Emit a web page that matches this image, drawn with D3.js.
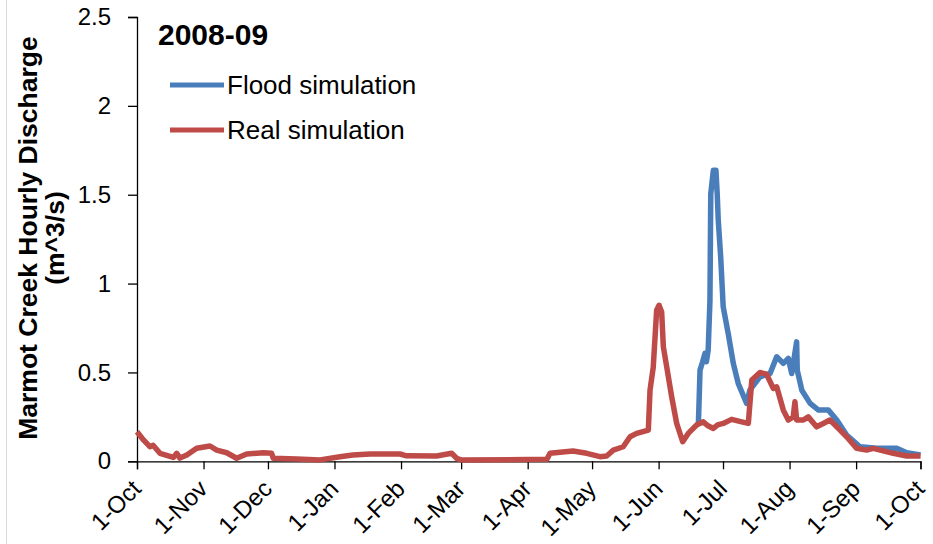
<!DOCTYPE html>
<html>
<head>
<meta charset="utf-8">
<script src="https://cdn.jsdelivr.net/npm/d3@7"></script>
<style>
  html, body { margin: 0; padding: 0; background: #fff; }
  svg { display: block; font-family: "Liberation Sans", Arial, sans-serif; }
</style>
</head>
<body>
<svg id="chart" width="933" height="544"></svg>
<script>
// Marmot Creek hourly discharge, water year 2008-09 (m^3/s)
const seasonLabel = "2008-09";
const yTickValues = [0, 0.5, 1, 1.5, 2, 2.5];
const seriesNames = ["Flood simulation", "Real simulation"];
const seriesColors = ["#4a7ebb", "#be4b48"];

// Real simulation: [date hour, discharge]
const realSeries = [
  ["2008-10-01 00", 0.166], ["2008-10-04 00", 0.120], ["2008-10-07 00", 0.082],
  ["2008-10-08 12", 0.090], ["2008-10-11 17", 0.045],
  ["2008-10-17 22", 0.022], ["2008-10-19 12", 0.045], ["2008-10-21 00", 0.018],
  ["2008-10-24 05", 0.035], ["2008-10-28 19", 0.073], ["2008-11-04 00", 0.086],
  ["2008-11-07 03", 0.063], ["2008-11-11 19", 0.048], ["2008-11-16 10", 0.017],
  ["2008-11-21 02", 0.041], ["2008-11-28 19", 0.048], ["2008-12-02 17", 0.045],
  ["2008-12-03 12", 0.017], ["2008-12-14 10", 0.013], ["2008-12-25 07", 0.008],
  ["2009-01-03 14", 0.026], ["2009-01-09 14", 0.035], ["2009-01-17 12", 0.041],
  ["2009-01-31 12", 0.041], ["2009-02-03 14", 0.031], ["2009-02-17 14", 0.030],
  ["2009-02-24 14", 0.045], ["2009-02-26 22", 0.017], ["2009-03-01 07", 0.007],
  ["2009-04-09 22", 0.011], ["2009-04-11 10", 0.045], ["2009-04-22 02", 0.058],
  ["2009-04-28 12", 0.045], ["2009-05-04 17", 0.026], ["2009-05-07 19", 0.030],
  ["2009-05-10 22", 0.063], ["2009-05-15 12", 0.082], ["2009-05-18 17", 0.138],
  ["2009-05-21 19", 0.157], ["2009-05-27 05", 0.176], ["2009-05-28 00", 0.400],
  ["2009-05-29 12", 0.530], ["2009-05-31 02", 0.850], ["2009-06-01 05", 0.878],
  ["2009-06-02 10", 0.840], ["2009-06-03 05", 0.644], ["2009-06-04 19", 0.530],
  ["2009-06-07 02", 0.363], ["2009-06-09 10", 0.213], ["2009-06-12 05", 0.110],
  ["2009-06-14 19", 0.157], ["2009-06-18 17", 0.204], ["2009-06-21 19", 0.222],
  ["2009-06-24 00", 0.200], ["2009-06-26 12", 0.185], ["2009-06-28 12", 0.205],
  ["2009-07-01 02", 0.213], ["2009-07-05 00", 0.236],
  ["2009-07-09 17", 0.222], ["2009-07-12 19", 0.213], ["2009-07-14 10", 0.457],
  ["2009-07-18 05", 0.500], ["2009-07-21 07", 0.490], ["2009-07-24 10", 0.410],
  ["2009-07-26 00", 0.419], ["2009-07-29 02", 0.288], ["2009-07-31 10", 0.232],
  ["2009-08-02 17", 0.250], ["2009-08-03 12", 0.335], ["2009-08-04 07", 0.232],
  ["2009-08-07 10", 0.232], ["2009-08-09 17", 0.250], ["2009-08-13 14", 0.194],
  ["2009-08-16 17", 0.213], ["2009-08-19 19", 0.232], ["2009-08-23 00", 0.194],
  ["2009-08-27 14", 0.138], ["2009-09-01 07", 0.073], ["2009-09-05 22", 0.063],
  ["2009-09-09 00", 0.073], ["2009-09-18 07", 0.045], ["2009-09-24 14", 0.030],
  ["2009-10-01 00", 0.030]
];

// Flood simulation: [date hour, discharge] (identical to the real run before mid-June)
const floodSeries = [
  ["2009-06-19 12", 0.200], ["2009-06-20 07", 0.513], ["2009-06-21 12", 0.560],
  ["2009-06-22 14", 0.607], ["2009-06-23 06", 0.560],
  ["2009-06-24 02", 0.625], ["2009-06-24 22", 0.906], ["2009-06-25 07", 1.505],
  ["2009-06-26 12", 1.637], ["2009-06-27 17", 1.637], ["2009-06-28 07", 1.505],
  ["2009-06-28 19", 1.356], ["2009-06-29 22", 1.149], ["2009-07-01 02", 0.869],
  ["2009-07-03 10", 0.719], ["2009-07-05 19", 0.551], ["2009-07-08 02", 0.438],
  ["2009-07-12 00", 0.326], ["2009-07-13 12", 0.400], ["2009-07-18 05", 0.475],
  ["2009-07-22 22", 0.494], ["2009-07-26 00", 0.588], ["2009-07-29 02", 0.551],
  ["2009-07-31 10", 0.579], ["2009-08-02 00", 0.494], ["2009-08-04 07", 0.672],
  ["2009-08-04 14", 0.513], ["2009-08-06 17", 0.400], ["2009-08-10 14", 0.326],
  ["2009-08-14 12", 0.288], ["2009-08-19 02", 0.288], ["2009-08-23 00", 0.232],
  ["2009-08-27 14", 0.148], ["2009-09-02 19", 0.082], ["2009-09-10 14", 0.073],
  ["2009-09-19 22", 0.073], ["2009-09-24 14", 0.048], ["2009-10-01 00", 0.035]
];

const parse = d3.timeParse("%Y-%m-%d %H");
const toPoints = s => s.map(([t, v]) => ({ date: parse(t), value: v }));
const real = toPoints(realSeries);
const flood = toPoints(floodSeries);

const svg = d3.select("#chart");
const plot = { left: 137, right: 920.5, top: 17, bottom: 461.3 };

const x = d3.scaleTime()
  .domain([parse("2008-10-01 00"), parse("2009-10-01 00")])
  .range([plot.left, plot.right]);
const y = d3.scaleLinear().domain([0, 2.5]).range([plot.bottom, plot.top]);

// chart area border (left edge)
svg.append("line").attr("x1", 6.5).attr("x2", 6.5).attr("y1", 0).attr("y2", 544)
  .attr("stroke", "#d9d9d9").attr("stroke-width", 1);

// y axis
const yAxis = svg.append("g").attr("transform", `translate(${plot.left},0)`)
  .call(d3.axisLeft(y).tickValues(yTickValues).tickSize(9).tickPadding(17)
    .tickFormat(d3.format("~g")));
yAxis.select(".domain").attr("stroke", "#000").attr("stroke-width", 1.3);
yAxis.selectAll(".tick line").attr("stroke", "#000").attr("stroke-width", 1.3);
yAxis.selectAll(".tick text").attr("font-size", 24).attr("fill", "#000")
  .attr("font-family", "Liberation Sans, Arial, sans-serif");

// x axis
const xAxis = svg.append("g").attr("transform", `translate(0,${plot.bottom})`)
  .call(d3.axisBottom(x).ticks(d3.timeMonth.every(1)).tickSize(8)
    .tickFormat(d3.timeFormat("%-d-%b")));
xAxis.select(".domain").attr("stroke", "#000").attr("stroke-width", 1.3);
xAxis.selectAll(".tick line").attr("stroke", "#000").attr("stroke-width", 1.3);
xAxis.selectAll(".tick text")
  .attr("font-size", 24).attr("fill", "#000")
  .attr("font-family", "Liberation Sans, Arial, sans-serif")
  .attr("text-anchor", "end")
  .attr("dy", null).attr("y", null)
  .attr("transform", "translate(5,29) rotate(-45)");

// series lines
const line = d3.line().x(d => x(d.date)).y(d => y(d.value));
svg.append("path").datum(flood).attr("d", line)
  .attr("fill", "none").attr("stroke", seriesColors[0])
  .attr("stroke-width", 5.5).attr("stroke-linejoin", "round");
svg.append("path").datum(real).attr("d", line)
  .attr("fill", "none").attr("stroke", seriesColors[1])
  .attr("stroke-width", 5.5).attr("stroke-linejoin", "round");

// season label
svg.append("text").attr("x", 158).attr("y", 45)
  .attr("font-size", 30).attr("font-weight", "bold").attr("fill", "#000")
  .text(seasonLabel);

// legend
const legend = svg.append("g");
seriesNames.forEach((name, i) => {
  const ly = 85 + i * 45;
  legend.append("line").attr("x1", 170).attr("x2", 224).attr("y1", ly).attr("y2", ly)
    .attr("stroke", seriesColors[i]).attr("stroke-width", 5);
  legend.append("text").attr("x", 227).attr("y", ly + 9)
    .attr("font-size", 26).attr("fill", "#000").text(name);
});

// y axis title
const yTitle = svg.append("text")
  .attr("transform", "translate(37,238) rotate(-90)")
  .attr("text-anchor", "middle").attr("font-size", 26.5).attr("font-weight", "bold")
  .attr("fill", "#000");
yTitle.append("tspan").attr("x", 0).attr("dy", 0).text("Marmot Creek Hourly Discharge");
yTitle.append("tspan").attr("x", 0).attr("dy", 27).text("(m^3/s)");
</script>
</body>
</html>
